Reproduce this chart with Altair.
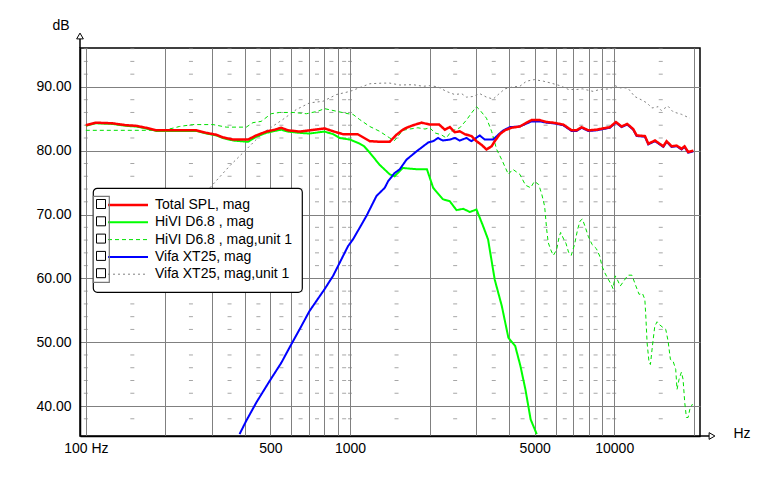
import altair as alt
import pandas as pd

# ---------------- data ----------------
series_names = [
    "Total SPL, mag",
    "HiVI D6.8 , mag",
    "HiVI D6.8 , mag,unit 1",
    "Vifa XT25, mag",
    "Vifa XT25, mag,unit 1",
]

total_f = [100, 109, 126, 142, 155, 169, 185, 200, 262, 286, 312, 330, 361, 411, 442, 482, 519, 549, 582, 645,
           703, 801, 863, 940, 1000, 1068, 1188, 1300, 1414, 1450, 1499, 1584, 1636, 1734, 1866, 2006, 2176, 2285,
           2387, 2493, 2603, 2719, 2882, 3011, 3153, 3285, 3435, 3530, 3691, 3856, 4082, 4394, 4656, 4864, 5231,
           5548, 5878, 6412, 6898, 7210, 7523, 7975, 8577, 9633, 10150, 10660, 11200, 11800, 12160, 13070, 13460,
           14270, 15340, 15790, 16490, 17230, 17990, 18460, 19050, 19940]
total_db = [84.0, 84.4, 84.3, 84.0, 83.9, 83.6, 83.2, 83.2, 83.2, 82.8, 82.5, 82.1, 81.75, 81.75, 82.4, 83.0, 83.3,
            83.6, 83.2, 83.0, 83.2, 83.5, 83.05, 82.6, 82.6, 82.6, 81.5, 81.4, 81.4, 81.9, 82.5, 83.3, 83.6, 84.0,
            84.4, 84.1, 84.1, 83.3, 83.7, 82.9, 83.05, 82.6, 82.3, 81.5, 80.9, 80.2, 80.7, 81.5, 82.6, 83.2, 83.6,
            83.8, 84.4, 84.8, 84.8, 84.5, 84.4, 84.1, 83.2, 83.2, 83.7, 83.2, 83.3, 83.7, 84.5, 83.8, 84.2, 83.4,
            82.4, 82.3, 81.1, 81.6, 80.7, 81.5, 80.7, 80.8, 80.3, 80.7, 79.8, 80.0]

hivi_f = [100, 109, 126, 142, 155, 169, 185, 200, 262, 286, 312, 330, 361, 411, 442, 482, 519, 549, 582, 645, 703,
          801, 863, 913, 1000, 1076, 1131, 1188, 1294, 1414, 1474, 1584, 1785, 1955, 2064, 2245, 2385, 2529, 2682,
          2843, 3011, 3189, 3331, 3530, 3753, 3976, 4220, 4414, 4612, 4827, 5090]
hivi_db = [83.9, 84.3, 84.2, 83.9, 83.8, 83.5, 83.1, 83.1, 83.1, 82.7, 82.4, 82.0, 81.6, 81.4, 82.2, 82.8, 83.1,
           83.3, 83.0, 82.8, 82.7, 83.0, 82.6, 82.0, 81.75, 81.2, 80.7, 79.7, 77.8, 76.3, 76.0, 77.3, 77.1, 77.1,
           74.2, 72.4, 72.1, 70.7, 70.9, 70.4, 70.8, 68.2, 66.1, 59.8, 55.7, 50.7, 49.4, 46.3, 42.6, 37.9, 35.6]

hivi_u_f = [100, 196, 217, 226, 254, 303, 340, 405, 429, 461, 503, 541, 609, 684, 757, 801, 886, 983, 1026, 1087,
            1188, 1294, 1414, 1474, 1584, 1683, 1806, 1922, 2006, 2093, 2216, 2315, 2418, 2603, 2758, 2882, 3011,
            3097, 3285, 3435, 3590, 3753, 3976, 4130, 4394, 4617, 4827, 4990, 5180, 5325, 5453, 5550, 5627, 5775,
            5885, 6054, 6181, 6269, 6446, 6566, 6717, 6875, 7075, 7272, 7427, 7575, 7748, 7974, 8248, 8562, 8812,
            8992, 9204, 9466, 9746, 9890, 10090, 10330, 10540, 10880, 11270, 11670, 12080, 12420, 12790, 13060,
            13170, 13320, 13550, 13710, 13950, 14240, 14530, 14780, 15300, 15670, 15990, 16320, 16700, 17090,
            17290, 17600, 17960, 18220, 18490, 18760, 19040, 19330, 19780]
hivi_u_db = [83.2, 83.2, 83.6, 83.8, 84.1, 84.1, 83.7, 83.7, 84.4, 84.6, 85.8, 86.0, 86.0, 85.8, 86.2, 86.6, 86.2,
             85.8, 85.7, 84.9, 83.8, 83.05, 82.0, 81.6, 83.2, 83.4, 83.6, 83.4, 83.6, 82.8, 82.5, 82.0, 83.05,
             83.6, 84.8, 85.9, 86.9, 86.4, 85.1, 83.05, 80.2, 78.6, 76.3, 77.1, 76.3, 74.6, 74.2, 75.2, 74.7,
             73.1, 71.3, 67.7, 65.6, 64.3, 63.6, 64.5, 66.4, 67.2, 66.1, 65.5, 64.1, 63.6, 65.3, 67.7, 69.0, 69.3,
             68.2, 66.6, 65.3, 64.65, 63.5, 61.9, 60.9, 59.95, 59.05, 58.4, 60.4, 59.6, 58.8, 59.6, 60.5, 60.5,
             58.8, 57.5, 57.65, 56.7, 54.1, 49.9, 46.8, 46.5, 49.4, 52.5, 53.2, 52.8, 52.3, 52.0, 50.2, 47.3,
             47.05, 45.75, 42.6, 44.2, 45.3, 44.2, 40.55, 38.2, 38.2, 39.5, 40.3]

vifa_f = [382, 405, 442, 496, 550, 600, 654, 703, 801, 863, 983, 1026, 1153, 1259, 1354, 1393, 1474, 1543, 1636,
          1785, 1978, 2064, 2155, 2245, 2387, 2493, 2603, 2758, 2882, 3097, 3236, 3483, 3638, 3804, 4027, 4394,
          4864, 5231, 5548, 5878, 6412, 6898, 7210, 7523, 7975, 8577, 9633, 10150, 10660, 11200, 11800, 12160,
          13070, 13460, 14270, 15340, 15790, 16490, 17230, 17990, 18460, 19050, 19940]
vifa_db = [35.6, 37.7, 40.55, 43.9, 46.8, 49.7, 52.5, 54.9, 58.3, 60.4, 65.05, 66.1, 69.75, 72.9, 74.2, 75.2, 76.5,
           77.1, 78.6, 79.9, 81.3, 81.5, 82.0, 81.6, 81.75, 82.0, 81.6, 82.0, 81.5, 82.4, 81.75, 81.75, 82.5, 83.2,
           83.7, 83.8, 84.6, 84.6, 84.4, 84.3, 84.0, 83.1, 83.1, 83.6, 83.1, 83.2, 83.6, 84.4, 83.7, 84.1, 83.3,
           82.3, 82.2, 81.0, 81.5, 80.6, 81.4, 80.6, 80.7, 80.2, 80.6, 79.7, 79.9]

vifa_u_f = [295, 350, 405, 468, 557, 626, 703, 790, 888, 1000, 1188, 1331, 1414, 1543, 1734, 1892, 2006, 2155,
            2315, 2493, 2646, 2758, 2917, 3097, 3285, 3483, 3638, 3856, 4130, 4394, 4656, 4989, 5391, 5775, 6229,
            6715, 7215, 7575, 8318, 8810, 9633, 10070, 10530, 11250, 11950, 12640, 13290, 13890, 14660, 15070,
            15970, 16700, 17990, 19330]
vifa_u_db = [74.2, 77.6, 80.2, 82.8, 84.9, 86.45, 87.5, 87.75, 88.8, 89.3, 90.5, 90.6, 90.6, 90.3, 90.35,
             90.1, 90.2, 90.0, 89.3, 88.8, 88.95, 88.4, 88.5, 88.95, 88.4, 88.1, 88.8, 89.7, 90.0, 90.1, 90.9,
             91.15, 90.9, 90.6, 90.2, 89.6, 89.6, 89.7, 89.3, 89.6, 89.7, 90.2, 89.85, 89.85, 88.5, 88.0, 87.5,
             86.7, 86.9, 86.3, 87.0, 86.1, 85.7, 85.1]

# axis structure
x_grid_values = [100, 200, 300, 400, 500, 600, 700, 800, 900,
                 1000, 2000, 3000, 4000, 5000, 6000, 7000, 8000, 9000, 10000, 20000]
y_grid_values = [40, 50, 60, 70, 80, 90]
minor_freqs = [100, 150, 250, 350, 450, 550, 650, 750, 850, 950,
               1000, 1500, 2500, 3500, 4500, 5500, 6500, 7500, 8500, 9500, 10000, 15000]
minor_dbs = [38, 42, 44, 46, 48, 52, 54, 56, 58, 62, 64, 66, 68, 72, 74, 76, 78, 82, 84, 86, 88, 92, 94, 96]

# styles
colors = ["#ff0000", "#00ff00", "#00e000", "#0000ff", "#808080"]
dashes = [[1, 0], [1, 0], [4, 3], [1, 0], [2, 3]]
widths = [2.5, 2, 1, 2, 1]

box_names = ["box " + s for s in series_names]

series_data = [(total_f, total_db), (hivi_f, hivi_db), (hivi_u_f, hivi_u_db), (vifa_f, vifa_db), (vifa_u_f, vifa_u_db)]
rows = []
for name, bname, (fs, ds) in zip(series_names, box_names, series_data):
    for f, d in zip(fs, ds):
        rows.append({"series": name, "box": bname, "freq": f, "db": d})
df = pd.DataFrame(rows)

minor_df = pd.DataFrame([{"freq": f, "db": d} for f in minor_freqs for d in minor_dbs])
one_df = pd.DataFrame({"a": [0]})

FONT = "Liberation Sans"
W, H = 620, 388

x_scale = alt.Scale(type="log", domain=[95.07, 21120], nice=False)
y_scale = alt.Scale(domain=[35.3, 96.1], nice=False, zero=False)

x_axis = alt.Axis(
    values=x_grid_values, grid=True, ticks=False, labelOverlap=False, labelFlush=False,
    labelExpr="datum.value == 100 ? '100 Hz' : ((datum.value == 500 || datum.value == 1000 || datum.value == 5000 || datum.value == 10000) ? format(datum.value, 'd') : '')",
    labelPadding=5, labelFontSize=14, labelFont=FONT, labelColor="black",
    title="Hz", titleAngle=0, titleAlign="left", titleBaseline="middle", titleX=653, titleY=-3,
    titleFont=FONT, titleFontSize=14, titleFontWeight="normal", titleColor="black",
)
y_axis = alt.Axis(
    values=y_grid_values, format=".2f", grid=True, ticks=False, labelPadding=9,
    labelFontSize=14, labelFont=FONT, labelColor="black",
    title="dB", titleAngle=0, titleAlign="right", titleBaseline="middle", titleX=-11, titleY=-23,
    titleFont=FONT, titleFontSize=14, titleFontWeight="normal", titleColor="black",
)

width_expr = "datum.value == 'Total SPL, mag' ? 2.5 : ((datum.value == 'HiVI D6.8 , mag' || datum.value == 'Vifa XT25, mag') ? 2 : 1)"
main_legend = alt.Legend(
    title=None, orient="none", legendX=13, legendY=140,
    symbolType="stroke", symbolSize=1600, symbolOffset=18,
    symbolStrokeWidth=alt.ExprRef(expr=width_expr),
    labelFont=FONT, labelFontSize=14, labelColor="black", labelOffset=20, labelLimit=400,
    rowPadding=3.3, padding=10, fillColor="white", strokeColor="black", cornerRadius=4,
)

color_enc = alt.Color("series:N", scale=alt.Scale(domain=series_names, range=colors), legend=main_legend)
dash_enc = alt.StrokeDash("series:N", scale=alt.Scale(domain=series_names, range=dashes), legend=main_legend)
x_enc = alt.X("freq:Q", scale=x_scale, axis=x_axis)
y_enc = alt.Y("db:Q", scale=y_scale, axis=y_axis)

# minor dB dashes
minor = alt.Chart(minor_df).mark_tick(orient="horizontal", size=4, thickness=1, color="#808080").encode(
    x=alt.X("freq:Q", scale=x_scale, axis=x_axis), y=alt.Y("db:Q", scale=y_scale, axis=y_axis))

draw_order = [4, 2, 1, 3, 0]
line_layers = []
for i in draw_order:
    line_layers.append(
        alt.Chart(df).transform_filter(alt.datum.series == series_names[i])
        .mark_line(interpolate="linear")
        .encode(x=x_enc, y=y_enc, color=color_enc, strokeDash=dash_enc,
                strokeWidth=alt.value(widths[i]), order="freq:Q")
    )

# checkbox column of the legend
box_legend = alt.Legend(
    title=None, orient="none", legendX=13, legendY=148,
    symbolType="square", symbolSize=81, symbolFillColor="white", symbolStrokeColor="black",
    symbolStrokeWidth=1, symbolOpacity=1, labelExpr="''", labelOffset=0, labelFontSize=14,
    rowPadding=3.3, padding=1, strokeColor="#777777", zindex=1,
)
boxes = alt.Chart(df).mark_point(opacity=0, filled=False).encode(
    x=x_enc, y=y_enc,
    shape=alt.Shape("box:N", scale=alt.Scale(domain=box_names, range=["square"] * 5), legend=box_legend),
)

# axis arrows
y_ext = alt.Chart(one_df).mark_rule(color="black", strokeWidth=1.5).encode(
    x=alt.value(0), y=alt.value(-10), y2=alt.value(0))
x_ext = alt.Chart(one_df).mark_rule(color="black", strokeWidth=1.5).encode(
    x=alt.value(W), x2=alt.value(W + 9), y=alt.value(H))
y_arrow = alt.Chart(one_df).mark_point(shape="triangle-up", size=45, filled=True, fill="white",
                                       stroke="black", strokeWidth=1, opacity=1).encode(
    x=alt.value(0), y=alt.value(-12))
x_arrow = alt.Chart(one_df).mark_point(shape="triangle-right", size=45, filled=True, fill="white",
                                       stroke="black", strokeWidth=1, opacity=1).encode(
    x=alt.value(W + 12), y=alt.value(H))

chart = alt.layer(minor, *line_layers, boxes, y_ext, x_ext, y_arrow, x_arrow).properties(
    width=W, height=H,
    autosize=alt.AutoSizeParams(type="none"),
    padding={"left": 72, "top": 40, "right": 60, "bottom": 30},
).configure_view(stroke="black", strokeWidth=1.5).configure_axis(
    domainColor="black", domainWidth=1.5, gridColor="#808080", gridOpacity=1, gridWidth=1,
).configure_legend(strokeWidth=1.2)

chart.save("out.html", embed_options={"renderer": "svg", "actions": False})
